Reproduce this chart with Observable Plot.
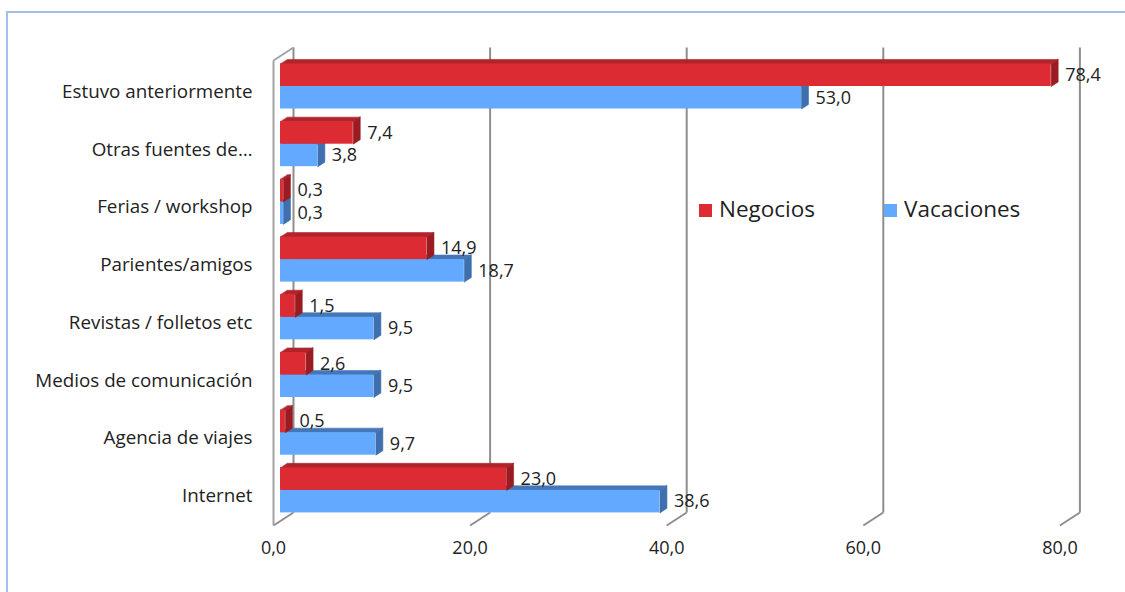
<!DOCTYPE html>
<html>
<head>
<meta charset="utf-8">
<script src="https://cdn.jsdelivr.net/npm/d3@7"></script>
<script src="https://cdn.jsdelivr.net/npm/@observablehq/plot@0.6"></script>
<style>
  body { margin: 0; background: #fff; font-family: "Open Sans", sans-serif; }
  #wrap { position: relative; width: 1125px; height: 592px; overflow: hidden; background: #fff; }
  #frame { position: absolute; left: 6px; top: 11px; width: 1300px; height: 800px;
           border: 2px solid #a5bfe8; box-sizing: border-box; pointer-events: none; }
  #chart { position: absolute; left: 0; top: 0; }
  #legend { position: absolute; left: 699px; top: 195px; font-size: 22.5px; color: #1f1f1f; }
  .item { position: absolute; top: 0; white-space: nowrap; line-height: 30px; }
  .sw { position: absolute; top: 9px; width: 13px; height: 13px; }
  .item span.lab { position: absolute; left: 20px; top: -1px; }
</style>
</head>
<body>
<div id="wrap">
  <div id="frame"></div>
  <div id="chart"></div>
  <div id="legend"></div>
</div>
<script>
// Sources of information, by purpose of the trip (%)
const categories = [
  "Estuvo anteriormente",
  "Otras fuentes de…",
  "Ferias / workshop",
  "Parientes/amigos",
  "Revistas / folletos etc",
  "Medios de comunicación",
  "Agencia de viajes",
  "Internet"
];
const negocios   = [78.4, 7.4, 0.3, 14.9, 1.5, 2.6, 0.5, 23.0];
const vacaciones = [53.0, 3.8, 0.3, 18.7, 9.5, 9.5, 9.7, 38.6];
const xTicks = [0, 20, 40, 60, 80];
const seriesNames = ["Negocios", "Vacaciones"];

// Colours: front face, top face, side face
const palette = {
  Negocios:   { front: "#dd2b34", top: "#b0242b", side: "#9a1c22" },
  Vacaciones: { front: "#62a9ff", top: "#4577b8", side: "#3e6fae" }
};

// Pseudo-3D geometry: the plot floor has a depth of 20px right / 13px up.
const pxPerUnit = 786.4 / 80;   // x pixels per percentage point
const pxPerRow = 57.7;          // y pixels per category row
const DX = 20 / pxPerUnit;      // full depth, in x units
const DY = 13 / pxPerRow;       // full depth, in y (row) units
const dFront = 0.35, dBack = 0.7; // depth band occupied by the bars
const BH = 0.39;                // bar thickness, in rows
const wallTop = -0.53, wallBottom = 7.53;

const at = (x, y, d) => ({ x: x + d * DX, y: y - d * DY });
const fmt = v => v.toFixed(1).replace(".", ",");

function buildBars(name, values) {
  const fronts = [], tops = [], sides = [], labels = [];
  values.forEach((v, i) => {
    const top = name === "Negocios" ? i - BH : i;
    const bot = top + BH;
    const id = name + i;
    fronts.push({ x1: at(0, 0, dFront).x, x2: at(v, 0, dFront).x,
                  y1: at(0, top, dFront).y, y2: at(0, bot, dFront).y });
    [at(0, top, dFront), at(v, top, dFront), at(v, top, dBack), at(0, top, dBack)]
      .forEach(p => tops.push({ id, ...p }));
    [at(v, top, dFront), at(v, bot, dFront), at(v, bot, dBack), at(v, top, dBack)]
      .forEach(p => sides.push({ id, ...p }));
    const c = at(v, (top + bot) / 2, dFront);
    labels.push({ x: c.x, y: c.y, text: fmt(v) });
  });
  const col = palette[name];
  return {
    marks: [
      Plot.line(tops, { x: "x", y: "y", z: "id", curve: "linear-closed",
                        fill: col.top, stroke: col.top, strokeWidth: 0.6 }),
      Plot.line(sides, { x: "x", y: "y", z: "id", curve: "linear-closed",
                         fill: col.side, stroke: col.side, strokeWidth: 0.6 }),
      Plot.rect(fronts, { x1: "x1", x2: "x2", y1: "y1", y2: "y2", fill: col.front })
    ],
    labels
  };
}

const blue = buildBars("Vacaciones", vacaciones);
const red = buildBars("Negocios", negocios);

const gridColor = "#8e8e8e";
const textStyle = { fontSize: 18, fill: "#222" };

const chart = Plot.plot({
  width: 1125,
  height: 592,
  x: { domain: [0, 80], range: [273, 273 + 786.4], axis: null },
  y: { domain: [-1, 8], range: [90.55 - pxPerRow, 90.55 + 8 * pxPerRow], axis: null },
  style: { fontFamily: "'Open Sans', sans-serif", background: "transparent", overflow: "visible" },
  marks: [
    // back wall gridlines
    Plot.link(xTicks, { x1: t => t + DX, x2: t => t + DX, y1: wallTop - DY, y2: wallBottom - DY,
                        stroke: gridColor, strokeWidth: 2 }),
    // floor edges running to the front
    Plot.link(xTicks, { x1: t => t, y1: wallBottom, x2: t => t + DX, y2: wallBottom - DY,
                        stroke: gridColor, strokeWidth: 2 }),
    // left side wall
    Plot.link([0], { x1: 0, x2: 0, y1: wallTop, y2: wallBottom, stroke: "#a3a3a3", strokeWidth: 2 }),
    Plot.link([0], { x1: 0, y1: wallTop, x2: DX, y2: wallTop - DY, stroke: "#a3a3a3", strokeWidth: 2 }),
    ...blue.marks,
    ...red.marks,
    // value labels
    Plot.text([...red.labels, ...blue.labels], { x: "x", y: "y", text: "text", dx: 14,
                textAnchor: "start", ...textStyle }),
    // category labels
    Plot.text(categories, { x: 0, y: (d, i) => i, text: d => d, dx: -21, dy: 1,
                            textAnchor: "end", ...textStyle, fontSize: 18.8 }),
    // x tick labels
    Plot.text(xTicks, { x: t => t, y: wallBottom, text: fmt, dy: 23, ...textStyle })
  ]
});
document.getElementById("chart").appendChild(chart);

// legend
const legend = document.getElementById("legend");
const legendX = { Negocios: 0, Vacaciones: 185 };
seriesNames.forEach(n => {
  const item = document.createElement("div");
  item.className = "item";
  item.style.left = legendX[n] + "px";
  const sw = document.createElement("div");
  sw.className = "sw";
  sw.style.background = palette[n].front;
  const lab = document.createElement("span");
  lab.className = "lab";
  lab.textContent = n;
  item.appendChild(sw);
  item.appendChild(lab);
  legend.appendChild(item);
});
</script>
</body>
</html>
